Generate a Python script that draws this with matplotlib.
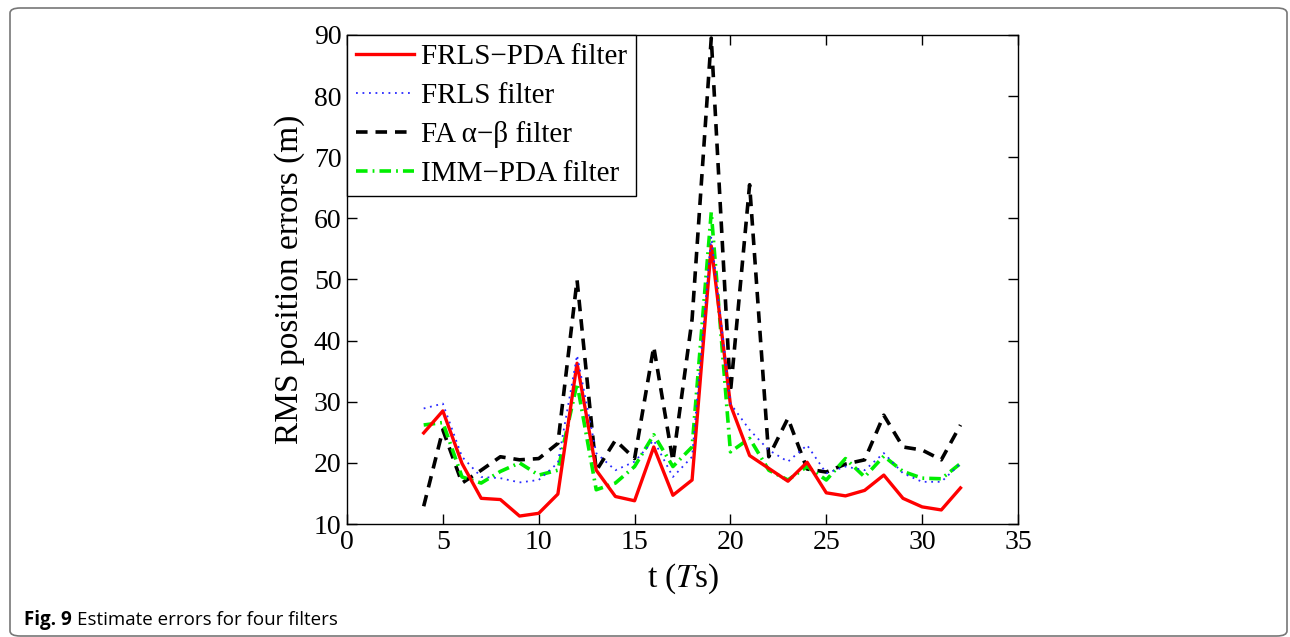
import matplotlib
matplotlib.use("Agg")
import matplotlib.pyplot as plt
from matplotlib.patches import FancyBboxPatch

# ---- data ----
t = list(range(4, 33))
frls_pda = [24.9, 28.5, 19.9, 14.2, 14.0, 11.3, 11.75, 14.9, 36.3, 18.8, 14.5, 13.8, 22.6, 14.7,
            17.2, 55.5, 29.5, 21.2, 19.1, 17.0, 20.1, 15.1, 14.6, 15.5, 18.0, 14.2, 12.8, 12.3, 15.9]
frls = [28.9, 29.7, 21.0, 17.7, 17.5, 16.8, 17.2, 20.0, 37.6, 21.6, 18.8, 20.2, 23.7, 17.7,
        21.0, 57.0, 29.7, 25.4, 22.1, 20.2, 22.9, 18.3, 19.4, 18.8, 21.6, 18.3, 16.9, 16.9, 19.9]
fa_ab = [12.9, 25.4, 16.7, 18.8, 21.0, 20.5, 20.7, 23.2, 49.9, 18.7, 23.7, 20.7, 39.0, 20.3,
         43.5, 89.5, 31.5, 65.5, 21.0, 27.3, 19.0, 18.5, 19.8, 20.5, 27.8, 22.6, 22.1, 20.5, 26.2]
imm_pda = [26.2, 26.6, 17.7, 16.7, 18.6, 20.0, 18.0, 18.8, 33.0, 15.6, 16.7, 19.4, 24.6, 19.4,
           22.6, 61.0, 21.8, 24.0, 18.8, 17.2, 19.4, 17.2, 20.7, 17.7, 21.1, 18.6, 17.5, 17.4, 19.9]
labels = ["FRLS\u2212PDA filter", "FRLS filter", "FA \u03b1\u2212\u03b2 filter", "IMM\u2212PDA filter"]
xticks = [0, 5, 10, 15, 20, 25, 30, 35]
yticks = [10, 20, 30, 40, 50, 60, 70, 80, 90]

plt.rcParams['font.family'] = ['Liberation Serif', 'DejaVu Serif']
plt.rcParams['mathtext.fontset'] = 'stix'

W, H = 1290, 637
fig = plt.figure(figsize=(W / 100, H / 100), dpi=100)
ax = fig.add_axes([347 / W, 1 - 524 / H, (1018 - 347) / W, (524 - 35) / H])

l_black, = ax.plot(t, fa_ab, color='black', lw=2.6, ls=(0, (3.2, 2.2)), zorder=2, label=labels[2])
l_green, = ax.plot(t, imm_pda, color='#00ee00', lw=2.6, ls=(0, (3.2, 1.4, 0.5, 1.4)), zorder=3, label=labels[3])
l_red, = ax.plot(t, frls_pda, color='#ff0000', lw=2.4, ls='-', zorder=4, label=labels[0])
l_blue, = ax.plot(t, frls, color='#2a2aff', lw=1.3, ls=(0, (1, 2.6)), zorder=5, label=labels[1])

ax.set_xlim(0, 35)
ax.set_ylim(10, 90)
ax.set_xticks(xticks)
ax.set_yticks(yticks)
ax.tick_params(direction='in', length=7, width=1, top=True, right=True, labelsize=20, pad=4)
for s in ax.spines.values():
    s.set_linewidth(1)
ax.set_xlabel(r't ($T$s)', fontsize=24, labelpad=5)
ax.set_ylabel('RMS position errors (m)', fontsize=24, labelpad=6)

leg = ax.legend(handles=[l_red, l_blue, l_black, l_green], loc='upper left', borderaxespad=0,
                fontsize=21, fancybox=False, edgecolor='black', framealpha=1,
                handlelength=2.0, handletextpad=0.25, labelspacing=0.42, borderpad=0.3)
leg.get_frame().set_linewidth(1)

# outer rounded frame
frame = FancyBboxPatch((10 / W, 1 / H), (1287 - 10) / W, (636 - 8) / H,
                       boxstyle="round,pad=0,rounding_size=0.008", transform=fig.transFigure,
                       fill=False, edgecolor='#777777', lw=1.2)
fig.patches.append(frame)

# caption
renderer = fig.canvas.get_renderer()
c1 = fig.text(24 / W, 1 - 625 / H, 'Fig. 9', fontsize=13.5, fontweight='bold',
              family=['Open Sans', 'DejaVu Sans'], va='baseline', ha='left')
bb = c1.get_window_extent(renderer=renderer)
fig.text((bb.x1 + 5) / W, 1 - 625 / H, 'Estimate errors for four filters', fontsize=13.5,
         family=['Open Sans', 'DejaVu Sans'], va='baseline', ha='left')

fig.savefig('out.png', dpi=100)
